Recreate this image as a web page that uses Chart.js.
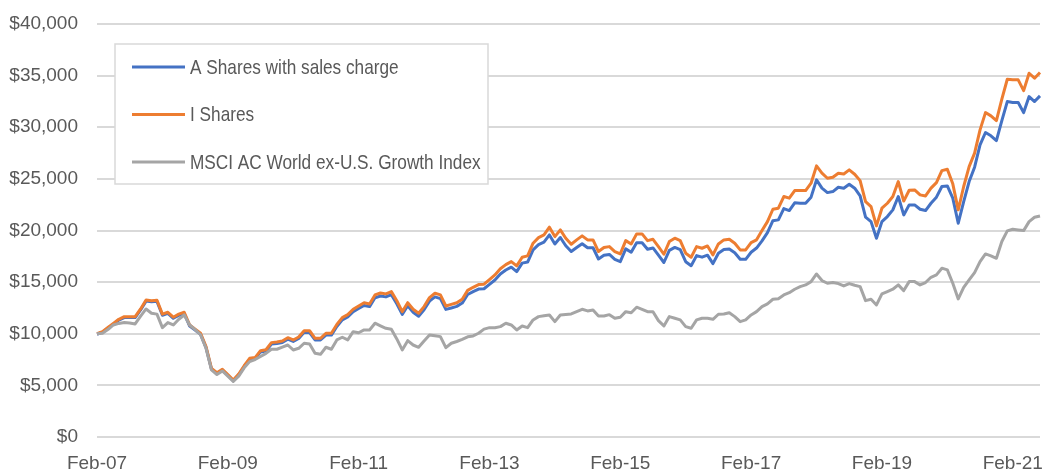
<!DOCTYPE html>
<html>
<head>
<meta charset="utf-8">
<script src="https://cdn.jsdelivr.net/npm/chart.js@4"></script>
<style>
  body { margin: 0; background: #fff; }
  #wrap { width: 1042px; height: 472px; }
</style>
</head>
<body>
<div id="wrap"><canvas id="growthChart"></canvas></div>
<script>
// growth of $10,000, monthly from Feb-07 to Jul-21
const tickLabels = ['Feb-07', 'Feb-09', 'Feb-11', 'Feb-13', 'Feb-15', 'Feb-17', 'Feb-19', 'Feb-21'];
const monthNames = ['Jan', 'Feb', 'Mar', 'Apr', 'May', 'Jun', 'Jul', 'Aug', 'Sep', 'Oct', 'Nov', 'Dec'];
const seriesNames = ['A Shares with sales charge', 'I Shares', 'MSCI AC World ex-U.S. Growth Index'];

const aShares = [
  9950, 10150, 10540, 10930, 11330, 11570, 11570, 11570, 12310, 13160, 13090, 13140,
  11790, 11970, 11500, 11780, 11960, 10740, 10350, 9940, 8650, 6580, 6160, 6480,
  5980, 5450, 6020, 6810, 7520, 7580, 8240, 8330, 9000, 9060, 9160, 9480,
  9250, 9540, 10140, 10120, 9400, 9400, 9870, 9870, 10700, 11350, 11620, 12140,
  12450, 12740, 12630, 13480, 13660, 13570, 13780, 12910, 11870, 12710, 12090, 11700,
  12330, 13160, 13570, 13400, 12360, 12500, 12650, 12970, 13800, 14080, 14330, 14360,
  14790, 15210, 15790, 16170, 16450, 16020, 16840, 16940, 18130, 18630, 18870, 19570,
  18690, 19320, 18520, 17960, 18350, 18720, 18330, 18330, 17240, 17600, 17680, 17210,
  16990, 18220, 17900, 18820, 18820, 18180, 18310, 17610, 16900, 18080, 18360, 18150,
  16980, 16590, 17570, 17420, 17610, 16790, 17800, 18150, 18210, 17850, 17210, 17210,
  17890, 18300, 19000, 19800, 20950, 21030, 22120, 21930, 22680, 22650, 22650, 23230,
  24900, 24100, 23670, 23770, 24190, 24100, 24480, 24100, 23350, 21290, 20860, 19250,
  20860, 21350, 22000, 23290, 21510, 22480, 22480, 22060, 21930, 22640, 23230, 24260,
  24320, 23130, 20710, 22800, 24740, 26130, 28290, 29490, 29170, 28710, 30650, 32490,
  32400, 32400, 31420, 32970, 32490, 33040
];
const iShares = [
  10000, 10200, 10600, 11000, 11400, 11650, 11650, 11650, 12400, 13270, 13200, 13250,
  11900, 12080, 11600, 11900, 12080, 10850, 10450, 10050, 8750, 6650, 6230, 6560,
  6050, 5520, 6100, 6900, 7620, 7690, 8360, 8450, 9140, 9200, 9300, 9620,
  9400, 9690, 10300, 10300, 9560, 9560, 10050, 10050, 10900, 11560, 11850, 12370,
  12690, 13000, 12890, 13760, 13950, 13860, 14080, 13200, 12140, 13010, 12370, 11990,
  12630, 13500, 13920, 13760, 12690, 12850, 13000, 13340, 14200, 14500, 14760, 14800,
  15250, 15700, 16300, 16700, 16990, 16570, 17410, 17540, 18770, 19310, 19570, 20320,
  19410, 20060, 19250, 18670, 19090, 19480, 19090, 19090, 17960, 18350, 18440, 17960,
  17730, 19020, 18700, 19670, 19670, 19020, 19150, 18440, 17700, 18930, 19250, 19020,
  17800, 17410, 18440, 18280, 18500, 17640, 18700, 19090, 19150, 18770, 18120, 18120,
  18830, 19100, 20000, 20860, 22060, 22160, 23290, 23130, 23870, 23870, 23870, 24580,
  26260, 25550, 25060, 25160, 25550, 25480, 25870, 25450, 24830, 22800, 22320, 20450,
  22160, 22640, 23290, 24740, 22850, 23900, 23930, 23450, 23350, 24100, 24640, 25800,
  25930, 24520, 22000, 24260, 26190, 27490, 29750, 31420, 31100, 30650, 32720, 34650,
  34590, 34590, 33550, 35230, 34750, 35300
];
const msciIndex = [
  10000, 10050, 10400, 10850, 11000, 11080, 11050, 10950, 11700, 12400, 11990, 11900,
  10590, 11080, 10850, 11400, 11820, 10850, 10400, 9900, 8600, 6500, 6050, 6400,
  5900, 5380, 5900, 6700, 7300, 7500, 7800, 8100, 8500, 8500, 8700, 8910,
  8430, 8590, 9080, 9000, 8110, 8010, 8690, 8500, 9400, 9660, 9400, 10200,
  10100, 10370, 10370, 11020, 10770, 10530, 10430, 9500, 8430, 9330, 8910, 8690,
  9300, 9880, 9800, 9720, 8650, 9080, 9250, 9450, 9700, 9790, 10050, 10450,
  10590, 10590, 10690, 11020, 10850, 10370, 10750, 10590, 11340, 11660, 11750, 11820,
  11170, 11820, 11870, 11920, 12140, 12370, 12210, 12300, 11720, 11720, 11850, 11500,
  11600, 12140, 12040, 12570, 12370, 12140, 12140, 11270, 10760, 11660, 11500, 11340,
  10690, 10530, 11340, 11500, 11500, 11400, 11890, 11920, 12040, 11660, 11170, 11340,
  11820, 12140, 12630, 12900, 13340, 13400, 13760, 13980, 14310, 14560, 14730, 15050,
  15790, 15150, 14890, 14960, 14860, 14630, 14860, 14700, 14560, 13210, 13340, 12790,
  13860, 14080, 14310, 14730, 14180, 15050, 15050, 14730, 14960, 15470, 15700, 16350,
  16180, 14890, 13370, 14500, 15210, 15920, 16990, 17730, 17540, 17310, 18930, 19960,
  20120, 20050, 19990, 20860, 21280, 21410
];

const months = [];
for (let i = 0; i < iShares.length; i++) {
  const m = (1 + i) % 12;
  const yr = 7 + Math.floor((1 + i) / 12);
  months.push(monthNames[m] + '-' + String(yr).padStart(2, '0'));
}

const textColor = '#595959';
const gridColor = '#d9d9d9';
const fontFamily = '"Liberation Sans", Arial, sans-serif';

// legend box drawn inside the plot, like the Excel original
const boxLegend = {
  id: 'boxLegend',
  afterDraw(chart) {
    const ctx = chart.ctx;
    ctx.save();
    ctx.fillStyle = '#fff';
    ctx.fillRect(115, 44, 373, 140);
    ctx.strokeStyle = gridColor;
    ctx.lineWidth = 1.5;
    ctx.strokeRect(115, 44, 373, 140);
    ctx.font = '21px ' + fontFamily;
    ctx.textBaseline = 'middle';
    chart.data.datasets.forEach((ds, i) => {
      const y = 67 + i * 47.5;
      ctx.strokeStyle = ds.borderColor;
      ctx.lineWidth = 3;
      ctx.beginPath();
      ctx.moveTo(132, y);
      ctx.lineTo(185, y);
      ctx.stroke();
      // the original uses a condensed face, so squeeze the text a bit
      ctx.save();
      ctx.translate(190, y + 1);
      ctx.scale(0.82, 1);
      ctx.fillStyle = textColor;
      ctx.fillText(ds.label, 0, 0);
      ctx.restore();
    });
    ctx.restore();
  }
};

const growthChart = new Chart(document.getElementById('growthChart'), {
  type: 'line',
  data: {
    labels: months,
    datasets: [{
      label: seriesNames[0],
      data: aShares,
      borderColor: '#4472C4',
      order: 2,
    }, {
      label: seriesNames[1],
      data: iShares,
      borderColor: '#ED7D31',
      order: 1,
    }, {
      label: seriesNames[2],
      data: msciIndex,
      borderColor: '#A5A5A5',
      order: 0,
    }],
  },
  options: {
    responsive: true,
    maintainAspectRatio: false,
    animation: false,
    layout: { padding: { top: 24, right: 2 } },
    elements: {
      line: { borderWidth: 3, tension: 0, borderJoinStyle: 'round' },
      point: { radius: 0, hoverRadius: 0 },
    },
    scales: {
      x: {
        grid: { display: false },
        border: { display: false },
        afterFit: (scale) => {
          scale.height = 35;
          scale.paddingLeft = 0;
          scale.paddingRight = 0;
        },
        ticks: {
          autoSkip: false,
          maxRotation: 0,
          padding: 7,
          color: textColor,
          font: { family: fontFamily, size: 19 },
          callback: function (value) {
            const lbl = this.getLabelForValue(value);
            return tickLabels.includes(lbl) ? lbl : null;
          },
        },
      },
      y: {
        min: 0,
        max: 40000,
        border: { display: false },
        grid: { color: gridColor, lineWidth: 2, drawTicks: false },
        afterFit: (scale) => {
          scale.width = 97;
          scale.paddingTop = 0;
          scale.paddingBottom = 0;
        },
        ticks: {
          stepSize: 5000,
          padding: 19,
          color: textColor,
          font: { family: fontFamily, size: 19 },
          callback: (v) => '$' + v.toLocaleString('en-US'),
        },
      },
    },
    plugins: {
      legend: { display: false },
      tooltip: { enabled: false },
    },
  },
  plugins: [boxLegend],
});
</script>
</body>
</html>
